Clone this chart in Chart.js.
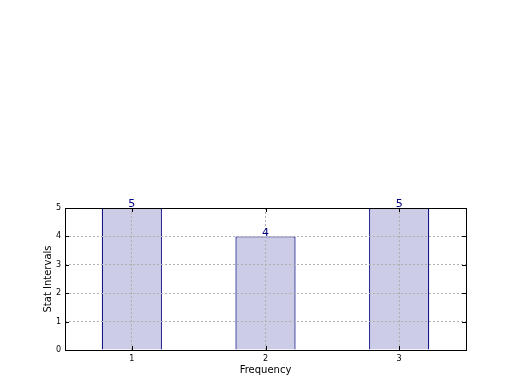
<!DOCTYPE html>
<html>
<head>
<meta charset="utf-8">
<script src="https://cdn.jsdelivr.net/npm/chart.js@4/dist/chart.umd.min.js"></script>
<style>
  html, body { margin: 0; padding: 0; background: #fff; }
  #wrap { width: 520px; height: 390px; }
</style>
</head>
<body>
<div id="wrap"><canvas id="chart"></canvas></div>
<script>
const positions = [1, 2, 3];
const counts = [5, 4, 5];
const yTicks = [0, 1, 2, 3, 4, 5];

// value labels above bars and a black frame round the plot area
const barLabels = {
    id: 'barLabels',
    afterDraw(chart) {
        const a = chart.chartArea;
        const ctx = chart.ctx;
        ctx.save();
        ctx.fillStyle = '#000080';
        ctx.font = '11px "DejaVu Sans"';
        ctx.textAlign = 'center';
        ctx.textBaseline = 'bottom';
        chart.getDatasetMeta(0).data.forEach(function(bar, i) {
            ctx.fillText(String(counts[i]), bar.x, bar.y + 2);
        });
        ctx.strokeStyle = '#000';
        ctx.lineWidth = 1;
        ctx.strokeRect(Math.round(a.left) + 0.5, Math.round(a.top) + 0.5,
            Math.round(a.right - a.left), Math.round(a.bottom - a.top));
        // inward ticks like matplotlib
        chart.scales.x.ticks.forEach(function(t) {
            const px = Math.round(chart.scales.x.getPixelForValue(t.value)) + 0.5;
            ctx.beginPath();
            ctx.moveTo(px, a.bottom); ctx.lineTo(px, a.bottom - 4);
            ctx.moveTo(px, a.top); ctx.lineTo(px, a.top + 4);
            ctx.stroke();
        });
        chart.scales.y.ticks.forEach(function(t) {
            const py = Math.round(chart.scales.y.getPixelForValue(t.value)) + 0.5;
            ctx.beginPath();
            ctx.moveTo(a.left, py); ctx.lineTo(a.left + 4, py);
            ctx.moveTo(a.right, py); ctx.lineTo(a.right - 4, py);
            ctx.stroke();
        });
        ctx.restore();
    }
};

const gridStyle = {
    color: '#b0b0b0',
    lineWidth: 1,
    drawTicks: false,
    offset: false,
    z: 1
};

new Chart(document.getElementById('chart'), {
    type: 'bar',
    data: {
        datasets: [{
            data: positions.map(function(p, i) { return { x: p, y: counts[i] }; }),
            backgroundColor: 'rgb(204,204,230)',
            borderColor: '#000080',
            borderWidth: 1.2,
            barPercentage: 0.45,
            categoryPercentage: 1.0
        }]
    },
    options: {
        responsive: true,
        maintainAspectRatio: false,
        animation: false,
        layout: { padding: { top: 208, right: 54, left: 0, bottom: 0 } },
        plugins: {
            legend: { display: false },
            tooltip: { enabled: false }
        },
        scales: {
            x: {
                type: 'linear',
                min: 0.5,
                max: 3.5,
                offset: false,
                afterBuildTicks(scale) {
                    scale.ticks = positions.map(function(v) { return { value: v }; });
                },
                afterFit(scale) { scale.height = 40; },
                grid: gridStyle,
                border: { display: false, dash: [2, 2] },
                ticks: {
                    color: '#000',
                    font: { family: 'DejaVu Sans', size: 8 },
                    padding: 4,
                    maxRotation: 0
                },
                title: {
                    display: true,
                    text: 'Frequency',
                    color: '#000',
                    font: { family: 'DejaVu Sans', size: 10 },
                    padding: { top: 2, bottom: 14 }
                }
            },
            y: {
                min: 0,
                max: 5,
                afterBuildTicks(scale) {
                    scale.ticks = yTicks.map(function(v) { return { value: v }; });
                },
                afterFit(scale) { scale.width = 65; },
                grid: gridStyle,
                border: { display: false, dash: [2, 2] },
                ticks: {
                    color: '#000',
                    font: { family: 'DejaVu Sans', size: 8 },
                    padding: 4
                },
                title: {
                    display: true,
                    text: 'Stat Intervals',
                    color: '#000',
                    font: { family: 'DejaVu Sans', size: 10 },
                    padding: { top: 42, bottom: 4 }
                }
            }
        }
    },
    plugins: [barLabels]
});
</script>
</body>
</html>
